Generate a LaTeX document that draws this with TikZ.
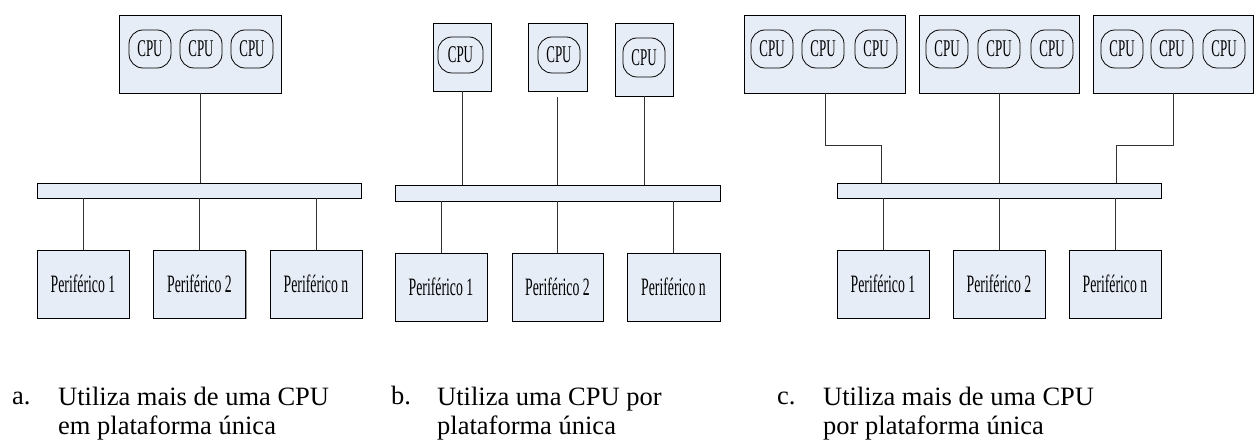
\documentclass[tikz,border=0pt]{standalone}
\usepackage{fontspec}
\usepackage{graphicx}
\setmainfont{Liberation Serif}
\usetikzlibrary{shadows}
\definecolor{boxfill}{HTML}{E7EDF7}
\definecolor{linecol}{HTML}{333333}
\newcommand{\narrow}[2]{\scalebox{#1}[1]{#2}}
\tikzset{
  frame/.style={draw=black, line width=0.9bp, fill=boxfill, inner sep=0pt,
    general shadow={shadow xshift=1.2bp, shadow yshift=-1.2bp, fill=gray!80}},
  cpu/.style={draw=black, line width=0.8bp, rounded corners=14bp, fill=boxfill,
    minimum width=42bp, minimum height=38bp, inner sep=0pt,
    font=\fontsize{24bp}{26bp}\selectfont},
  conn/.style={draw=linecol, line width=1bp},
  periph/.style={frame, font=\fontsize{25bp}{27bp}\selectfont},
  captxt/.style={anchor=north west, inner sep=0pt, align=left,
    font=\fontsize{26.5bp}{28.5bp}\selectfont},
  caplbl/.style={anchor=base west, inner sep=0pt,
    font=\fontsize{26.5bp}{28.5bp}\selectfont},
}
\newcommand{\cpuT}{\narrow{0.54}{CPU}}
\newcommand{\perT}[1]{\narrow{0.55}{Periférico #1}}
\begin{document}
\begin{tikzpicture}[x=1bp,y=-1bp]
\useasboundingbox (0,0) rectangle (1256,443);

% ---------------- Panel a ----------------
\path[frame] (119,15) rectangle (281,93);
\coordinate (aBoxS) at (200,93);
\node[cpu] (a1) at (150,49) {\cpuT};
\node[cpu] (a2) at (201,49) {\cpuT};
\node[cpu] (a3) at (252,49) {\cpuT};
\node[frame, minimum width=324bp, minimum height=15bp] (aBus) at (199,190.5) {};
\node[periph, minimum width=92bp, minimum height=68bp] (ap1) at (83,284) {\perT{1}};
\node[periph, minimum width=92bp, minimum height=68bp] (ap2) at (199.5,284) {\perT{2}};
\node[periph, minimum width=92bp, minimum height=68bp] (apn) at (316,284) {\perT{n}};
\draw[conn] (aBoxS) -- (aBoxS |- aBus.north);
\foreach \p in {ap1,ap2,apn} \draw[conn] (aBus.south -| \p.north) -- (\p.north);

% ---------------- Panel b ----------------
\node[frame, minimum width=58bp, minimum height=68bp] (bb1) at (462,57) {};
\node[frame, minimum width=59bp, minimum height=68bp] (bb2) at (557.5,57) {};
\node[frame, minimum width=58bp, minimum height=73bp] (bb3) at (644,59.5) {};
\node[cpu, minimum width=45bp, minimum height=36bp] (b1) at (460.5,55) {\cpuT};
\node[cpu, minimum width=42bp, minimum height=36bp] (b2) at (559,55) {\cpuT};
\node[cpu, minimum width=42bp, minimum height=39bp] (b3) at (644,57.5) {\cpuT};
\node[frame, minimum width=325bp, minimum height=16bp] (bBus) at (557.5,193) {};
\node[periph, minimum width=92bp, minimum height=68bp] (bp1) at (441,287) {\perT{1}};
\node[periph, minimum width=91bp, minimum height=68bp] (bp2) at (557.5,287) {\perT{2}};
\node[periph, minimum width=93bp, minimum height=68bp] (bpn) at (673.5,287) {\perT{n}};
\draw[conn] (bb1.south) -- (bb1.south |- bBus.north);
\draw[conn, shorten <=6bp] (bb2.south) -- (bb2.south |- bBus.north);
\draw[conn] (bb3.south) -- (bb3.south |- bBus.north);
\foreach \p in {bp1,bp2,bpn} \draw[conn] (bBus.south -| \p.north) -- (\p.north);

% ---------------- Panel c ----------------
\path[frame] (744,15) rectangle (905,93);
\path[frame] (919,15) rectangle (1079,93);
\path[frame] (1093,15) rectangle (1253,93);
\coordinate (cBox1S) at (825,93);
\coordinate (cBox2S) at (999,93);
\coordinate (cBox3S) at (1173,93);
\node[cpu] (c11) at (772,49) {\cpuT};
\node[cpu] (c12) at (823,49) {\cpuT};
\node[cpu] (c13) at (876,49) {\cpuT};
\node[cpu] (c21) at (947,49) {\cpuT};
\node[cpu] (c22) at (999,49) {\cpuT};
\node[cpu] (c23) at (1052,49) {\cpuT};
\node[cpu] (c31) at (1122,49) {\cpuT};
\node[cpu] (c32) at (1172,49) {\cpuT};
\node[cpu] (c33) at (1224,49) {\cpuT};
\node[frame, minimum width=324bp, minimum height=15bp] (cBus) at (999,190.5) {};
\node[periph, minimum width=92bp, minimum height=68bp] (cp1) at (883,284) {\perT{1}};
\node[periph, minimum width=92bp, minimum height=68bp] (cp2) at (999,284) {\perT{2}};
\node[periph, minimum width=92bp, minimum height=68bp] (cpn) at (1115,284) {\perT{n}};
\coordinate (cE1) at (881,146);
\coordinate (cE3) at (1116,146);
\draw[conn] (cBox1S) |- (cE1) -- (cE1 |- cBus.north);
\draw[conn] (cBox2S) -- (cBox2S |- cBus.north);
\draw[conn] (cBox3S) |- (cE3) -- (cE3 |- cBus.north);
\foreach \p in {cp1,cp2,cpn} \draw[conn] (cBus.south -| \p.north) -- (\p.north);

% ---------------- Captions ----------------
\node[caplbl] (la) at (12,405) {a.};
\node[captxt] (ta) at (58,387) {Utiliza mais de uma CPU\\em plataforma única};
\node[caplbl] (lb) at (391,405) {b.};
\node[captxt] (tb) at (437,387) {Utiliza uma CPU por\\plataforma única};
\node[caplbl] (lc) at (777,405) {c.};
\node[captxt] (tc) at (823,387) {Utiliza mais de uma CPU\\por plataforma única};
\end{tikzpicture}
\end{document}
